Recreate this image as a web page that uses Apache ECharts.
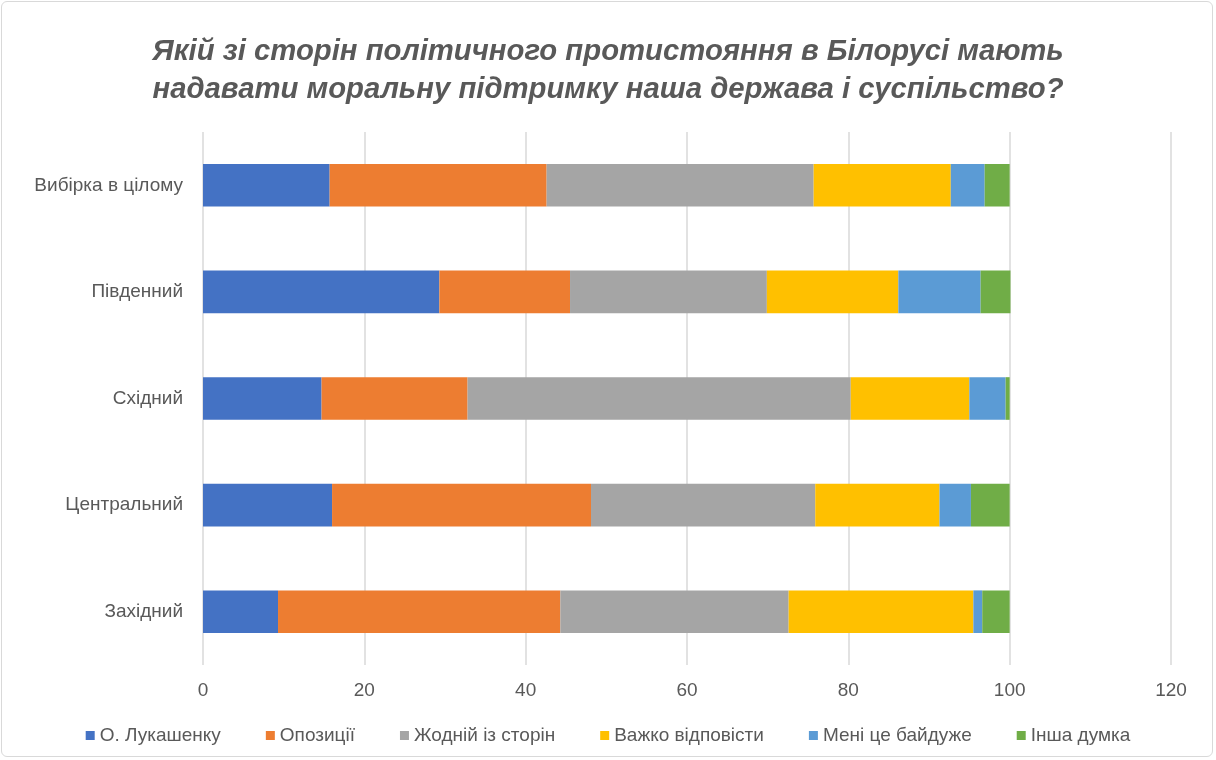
<!DOCTYPE html>
<html><head><meta charset="utf-8">
<script src="https://cdn.jsdelivr.net/npm/echarts@6/dist/echarts.min.js"></script>
<style>
html,body{margin:0;padding:0;background:#fff;}
#frame{position:absolute;left:1px;top:1px;width:1212px;height:756px;border:1px solid #d9d9d9;border-radius:6px;box-sizing:border-box;}
#c{position:absolute;left:0;top:0;width:1216px;height:760px;}
</style></head>
<body><div id="frame"></div><div id="c"></div>
<script>
const categories = ['Вибірка в цілому','Південний','Східний','Центральний','Західний'];
const seriesNames = ['О. Лукашенку','Опозиції','Жодній із сторін','Важко відповісти','Мені це байдуже','Інша думка'];
const lukashenko = [15.7, 29.3, 14.7, 16.0, 9.3];
const opposition = [26.9, 16.2, 18.1, 32.1, 35.0];
const neither    = [33.1, 24.4, 47.5, 27.8, 28.3];
const hardToSay  = [17.0, 16.3, 14.7, 15.4, 22.9];
const dontCare   = [4.2, 10.2, 4.5, 3.9, 1.1];
const other      = [3.1, 3.7, 0.5, 4.8, 3.4];
const xTicks = [0, 20, 40, 60, 80, 100, 120];

const values = [lukashenko, opposition, neither, hardToSay, dontCare, other];
const colors = ['#4472C4','#ED7D31','#A5A5A5','#FFC000','#5B9BD5','#70AD47'];
const font = "'Liberation Sans Narrow','Arial Narrow','Liberation Sans',sans-serif";
const cats = categories.slice().reverse();

const chart = echarts.init(document.getElementById('c'));
chart.setOption({
  animation: false,
  title: {
    text: 'Якій зі сторін політичного протистояння в Білорусі мають\nнадавати моральну підтримку наша держава і суспільство?',
    left: 'center', top: 28,
    textStyle: {fontFamily: font, fontSize: 29.3, fontWeight: 'bold', fontStyle: 'italic', color: '#595959', lineHeight: 38}
  },
  legend: {
    bottom: 10, left: 'center', itemWidth: 9, itemHeight: 9, itemGap: 45, icon: 'rect',
    textStyle: {fontFamily: font, fontSize: 19, color: '#595959'},
    data: seriesNames
  },
  grid: {left: 203, right: 45, top: 132, bottom: 95},
  xAxis: {
    type: 'value', min: xTicks[0], max: xTicks[xTicks.length-1], interval: 20,
    axisLine: {show: false}, axisTick: {show: false},
    splitLine: {lineStyle: {color: '#d9d9d9', width: 1.5}},
    axisLabel: {fontFamily: font, fontSize: 19, color: '#595959', margin: 16}
  },
  yAxis: {
    type: 'category', data: cats,
    axisLine: {show: false}, axisTick: {show: false},
    axisLabel: {fontFamily: font, fontSize: 19, color: '#595959', margin: 20}
  },
  series: seriesNames.map((n, i) => ({
    name: n, type: 'bar', stack: 'total', barWidth: '40%',
    itemStyle: {color: colors[i]},
    data: values[i].slice().reverse()
  }))
});
</script></body></html>
